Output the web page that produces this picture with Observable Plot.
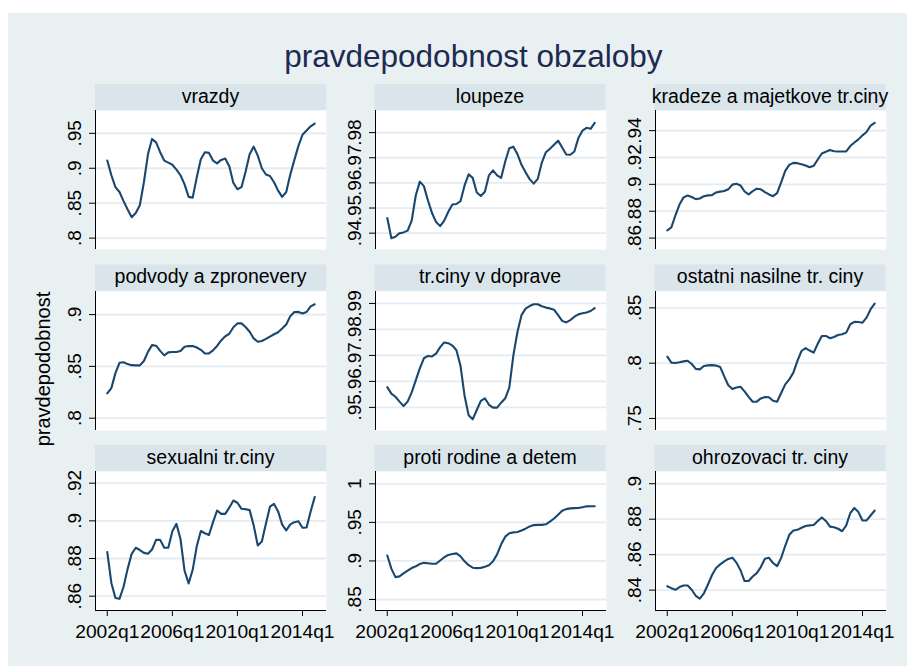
<!DOCTYPE html>
<html>
<head>
<meta charset="utf-8">
<script src="https://cdn.jsdelivr.net/npm/d3@7"></script>
<script src="https://cdn.jsdelivr.net/npm/@observablehq/plot@0.6"></script>
<style>
html, body { margin: 0; padding: 0; background: #ffffff; }
#root { position: relative; width: 907px; height: 666px; overflow: hidden; font-family: "Liberation Sans", Arial, sans-serif; }
#root svg.panel { position: absolute; overflow: visible; }
#bg { position: absolute; left: 0; top: 0; }
</style>
</head>
<body>
<div id="root"></div>
<script>
// ---- categories / time axis ----
const years = [2002, 2003, 2004, 2005, 2006, 2007, 2008, 2009, 2010, 2011, 2012, 2013, 2014];
const quarterNums = [1, 2, 3, 4];
const quarterT = [];
for (const y of years) for (const q of quarterNums) quarterT.push(y + (q - 1) / 4);
const xTicks = [2002, 2006, 2010, 2014];
const xTickLabels = ["2002q1", "2006q1", "2010q1", "2014q1"];

const chartTitle = "pravdepodobnost obzaloby";
const yAxisTitle = "pravdepodobnost";
const panelTitles = ["vrazdy", "loupeze", "kradeze a majetkove tr.ciny",
  "podvody a zpronevery", "tr.ciny v doprave", "ostatni nasilne tr. ciny",
  "sexualni tr.ciny", "proti rodine a detem", "ohrozovaci tr. ciny"];

// ---- series values (2002q1 .. 2014q4) ----
const vrazdy = [0.911,0.890,0.873,0.866,0.853,0.841,0.830,0.836,0.847,0.880,0.920,0.942,0.937,0.923,0.911,0.908,0.905,0.898,0.890,0.877,0.859,0.858,0.887,0.913,0.923,0.922,0.911,0.907,0.912,0.914,0.903,0.879,0.870,0.873,0.895,0.920,0.931,0.918,0.900,0.891,0.889,0.880,0.868,0.859,0.866,0.891,0.912,0.932,0.948,0.954,0.960,0.964];
const loupeze = [0.946,0.938,0.9386,0.940,0.9403,0.9410,0.945,0.955,0.9605,0.9587,0.953,0.948,0.9444,0.9428,0.945,0.9485,0.9514,0.9516,0.9527,0.9590,0.9634,0.9620,0.9562,0.9548,0.9565,0.9630,0.9650,0.9630,0.9620,0.9685,0.9738,0.9744,0.9714,0.9672,0.9642,0.9615,0.9597,0.9616,0.9681,0.9722,0.9736,0.9752,0.9768,0.9741,0.9713,0.9712,0.9725,0.9779,0.9808,0.9819,0.9815,0.9839];
const kradeze = [0.8658,0.868,0.8770,0.885,0.8903,0.8917,0.8906,0.8890,0.8895,0.8912,0.8918,0.8920,0.8940,0.8946,0.8950,0.8963,0.8998,0.9005,0.8992,0.8947,0.8925,0.8950,0.8968,0.8963,0.8942,0.8925,0.8912,0.8935,0.9015,0.9100,0.9145,0.9160,0.9158,0.9150,0.9140,0.9127,0.9138,0.9185,0.9230,0.9243,0.9256,0.9247,0.9245,0.9245,0.9246,0.9285,0.9312,0.9335,0.9365,0.9390,0.9438,0.9458];
const podvody = [0.8239,0.8290,0.8435,0.8535,0.8540,0.8522,0.8512,0.8510,0.8510,0.8552,0.8640,0.8705,0.8700,0.8650,0.8606,0.8635,0.8639,0.8639,0.8648,0.8690,0.8697,0.8696,0.8682,0.8660,0.8625,0.8625,0.8655,0.8697,0.8750,0.8790,0.8815,0.8878,0.8915,0.8915,0.8880,0.8835,0.8770,0.8738,0.8745,0.8765,0.8788,0.8810,0.8830,0.8865,0.8905,0.8985,0.9024,0.9026,0.9010,0.9025,0.9080,0.9100];
const doprava = [0.9578,0.9553,0.9541,0.9522,0.9505,0.9522,0.9558,0.9604,0.9650,0.9689,0.9698,0.9696,0.9707,0.9732,0.9750,0.9747,0.9738,0.9720,0.9660,0.9545,0.9470,0.9454,0.9490,0.9525,0.9535,0.9510,0.9499,0.9499,0.9518,0.9535,0.9576,0.9700,0.9790,0.9855,0.9880,0.9890,0.9897,0.9897,0.9889,0.9884,0.9881,0.9876,0.9855,0.9833,0.9827,0.9836,0.9849,0.9858,0.9862,0.9865,0.9871,0.9882];
const ostatni = [0.8059,0.8005,0.8002,0.8008,0.8016,0.8022,0.7992,0.7948,0.7944,0.7974,0.7980,0.7982,0.7978,0.7966,0.7880,0.7800,0.7766,0.7780,0.7786,0.7745,0.7695,0.7651,0.7652,0.7681,0.7694,0.7692,0.7660,0.7651,0.7730,0.7808,0.7853,0.7914,0.8020,0.8110,0.8136,0.8114,0.8095,0.8175,0.8246,0.8246,0.8225,0.8237,0.8254,0.8261,0.8276,0.8352,0.8373,0.8372,0.8366,0.8412,0.8488,0.8539];
const sexualni = [0.8834,0.8670,0.8590,0.8586,0.8650,0.8745,0.8825,0.8857,0.8845,0.8830,0.8825,0.8848,0.8899,0.8899,0.8857,0.8857,0.8945,0.8984,0.8904,0.8735,0.8668,0.8740,0.8865,0.8946,0.8934,0.8925,0.8993,0.9055,0.9037,0.9037,0.9070,0.9108,0.9096,0.9064,0.9062,0.9057,0.8975,0.8869,0.8890,0.8985,0.9075,0.9090,0.9050,0.8980,0.8949,0.8981,0.8993,0.8998,0.8963,0.8965,0.9050,0.9126];
const rodina = [0.9071,0.8900,0.8790,0.8800,0.8838,0.8873,0.8908,0.8930,0.8960,0.8975,0.8970,0.8963,0.8963,0.9005,0.9048,0.9078,0.9090,0.9098,0.9060,0.8995,0.8945,0.8912,0.8907,0.8910,0.8925,0.8945,0.8995,0.9085,0.9215,0.9315,0.9360,0.9370,0.9376,0.9395,0.9418,0.9448,0.9465,0.9468,0.9468,0.9475,0.9510,0.9550,0.9600,0.9650,0.9672,0.9682,0.9685,0.9687,0.9697,0.9708,0.9710,0.9710];
const ohrozovaci = [0.8422,0.8411,0.8402,0.8417,0.8426,0.8426,0.8402,0.8368,0.8352,0.8382,0.8432,0.8485,0.8525,0.8545,0.8562,0.8576,0.8583,0.8555,0.8512,0.8451,0.8451,0.8477,0.8496,0.8530,0.8577,0.8582,0.8553,0.8535,0.8582,0.8650,0.8712,0.8736,0.8740,0.8752,0.8762,0.8765,0.8767,0.8790,0.8810,0.8790,0.8758,0.8755,0.8746,0.8732,0.8765,0.8835,0.8863,0.8840,0.8793,0.8793,0.8821,0.8849];
const seriesList = [vrazdy, loupeze, kradeze, podvody, doprava, ostatni, sexualni, rodina, ohrozovaci];

// ---- y tick values per panel ----
const yTickSets = [
  [0.80, 0.85, 0.90, 0.95],
  [0.94, 0.95, 0.96, 0.97, 0.98],
  [0.86, 0.88, 0.90, 0.92, 0.94],
  [0.80, 0.85, 0.90],
  [0.95, 0.96, 0.97, 0.98, 0.99],
  [0.75, 0.80, 0.85],
  [0.86, 0.88, 0.90, 0.92],
  [0.85, 0.90, 0.95, 1.00],
  [0.84, 0.86, 0.88, 0.90]
];
// y axis ranges per panel (scale domains)
const yRanges = [
  [0.7837, 0.9827],
  [0.9335, 0.9888],
  [0.8515, 0.9550],
  [0.7881, 0.9223],
  [0.9411, 0.9946],
  [0.7391, 0.8648],
  [0.8524, 0.9262],
  [0.8357, 1.0160],
  [0.8285, 0.9069]
];
const xRange = [2001.275, 2015.475];

// ---- layout / style ----
const bgColor = "#e8f0f2";
const stripColor = "#d9e5eb";
const gridColor = "#e4ecf0";
const lineColor = "#1a476f";
const fontFam = "Liberation Sans, Arial, sans-serif";
const colX = [95, 374.5, 654.5];
const stripTop = [84, 264.5, 445];
const stripH = 26;
const plotW = 231, plotH = 139;
const ML = 60;
const fmt = d => { const s = String(+d.toFixed(2)); return s.startsWith("0") ? s.slice(1) : s; };

const root = document.getElementById("root");
const NS = "http://www.w3.org/2000/svg";
const bg = document.createElementNS(NS, "svg");
bg.setAttribute("id", "bg");
bg.setAttribute("width", 907); bg.setAttribute("height", 666);
function el(tag, attrs, text) {
  const e = document.createElementNS(NS, tag);
  for (const k in attrs) e.setAttribute(k, attrs[k]);
  if (text != null) e.textContent = text;
  bg.appendChild(e);
  return e;
}
el("rect", {x: 8, y: 13, width: 899, height: 653, fill: bgColor});
el("text", {x: 473.4, y: 66.5, "text-anchor": "middle", "font-size": 31.5, fill: "#1e2a50", "font-family": fontFam}, chartTitle);
el("text", {transform: "translate(49.5,369) rotate(-90)", "text-anchor": "middle", "font-size": 20, fill: "#000", "font-family": fontFam}, yAxisTitle);
panelTitles.forEach((t, k) => {
  const c = k % 3, r = Math.floor(k / 3);
  el("rect", {x: colX[c], y: stripTop[r], width: plotW, height: stripH, fill: stripColor});
  el("text", {x: colX[c] + plotW / 2, y: stripTop[r] + 18.6, "text-anchor": "middle", "font-size": 19.5, fill: "#000", "font-family": fontFam}, t);
});
root.appendChild(bg);

seriesList.forEach((vals, k) => {
  const c = k % 3, r = Math.floor(k / 3);
  const bottom = r === 2;
  const data = quarterT.map((t, i) => ({t, v: vals[i]}));
  const chart = Plot.plot({
    width: ML + plotW,
    height: plotH + (bottom ? 40 : 0),
    marginLeft: ML, marginRight: 0, marginTop: 0, marginBottom: bottom ? 40 : 0,
    style: {background: "transparent", color: "#000", fontSize: "19px", fontFamily: fontFam, overflow: "visible"},
    x: bottom ? {domain: xRange} : {domain: xRange, axis: null},
    y: {domain: yRanges[k]},
    marks: [
      Plot.frame({fill: "white", stroke: "none"}),
      Plot.gridY(yTickSets[k], {stroke: gridColor, strokeWidth: 1.8, strokeOpacity: 1}),
      Plot.axisY(yTickSets[k], {tickSize: 6, tickRotate: -90, tickPadding: 9, tickFormat: fmt, label: null, fontSize: 19}),
      bottom ? Plot.axisX(xTicks, {tickSize: 6, tickPadding: 8, tickFormat: d => xTickLabels[xTicks.indexOf(d)], label: null, fontSize: 19.2}) : null,
      Plot.ruleX([xRange[0]], {stroke: "#000", strokeWidth: 1}),
      bottom ? Plot.ruleY([yRanges[k][0]], {stroke: "#000", strokeWidth: 1}) : null,
      Plot.lineY(data, {x: "t", y: "v", stroke: lineColor, strokeWidth: 2.1})
    ]
  });
  chart.classList.add("panel");
  chart.style.left = (colX[c] - ML) + "px";
  chart.style.top = (stripTop[r] + stripH) + "px";
  root.appendChild(chart);
});
</script>
</body>
</html>
